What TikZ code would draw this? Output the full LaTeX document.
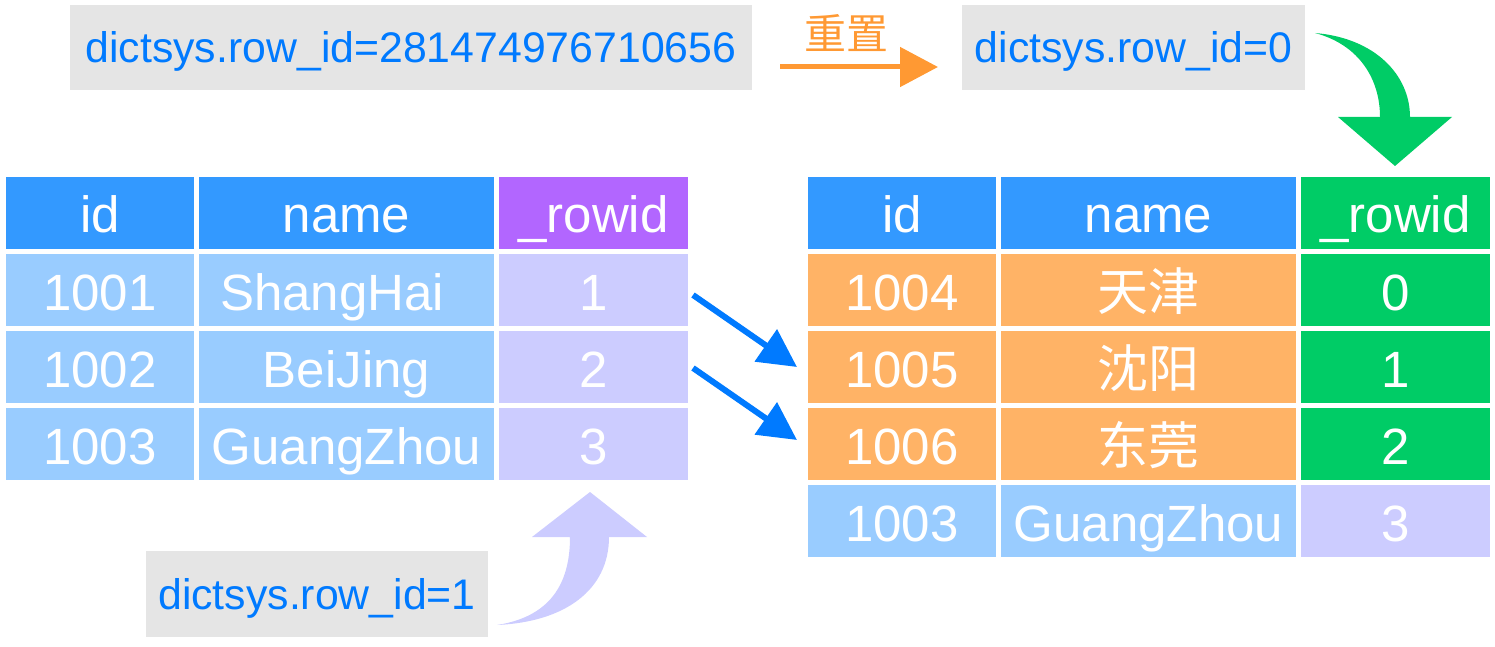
\documentclass[tikz,border=0pt]{standalone}
\usepackage{fontspec}
\setmainfont{Liberation Sans}
\newfontfamily\cjk{Noto Sans CJK SC}
\usetikzlibrary{arrows.meta}
\definecolor{hdrblue}{RGB}{51,153,255}
\definecolor{lblue}{RGB}{153,204,255}
\definecolor{hdrpurple}{RGB}{178,102,255}
\definecolor{lav}{RGB}{204,204,255}
\definecolor{orng}{RGB}{255,179,102}
\definecolor{grn}{RGB}{0,204,102}
\definecolor{lblgray}{RGB}{229,229,229}
\definecolor{txtblue}{RGB}{0,122,255}
\definecolor{arrorange}{RGB}{255,153,51}
\newcommand{\mycell}[7]{%
  \fill[#6] (#2,#3) rectangle (#4,#5);
  \node[celltxt] (#1) at ({(#2+#4)/2},{(#3+#5)/2}) {#7};}
\newcommand{\mylabel}[6]{%
  \fill[lblgray] (#2,#3) rectangle (#4,#5);
  \node[lbltxt] (#1) at ({(#2+#4)/2},{(#3+#5)/2}) {#6};}
\tikzset{
  celltxt/.style={text=white, font=\fontsize{25.5}{30}\selectfont, inner sep=0pt, text height=20pt, text depth=0pt},
  lbltxt/.style={text=txtblue, font=\fontsize{21.4}{25}\selectfont, inner sep=0pt, text height=15.3pt, text depth=0pt},
  bluearrow/.style={draw=txtblue, line width=3pt, -{Triangle[length=19pt,width=19pt]}},
  orangearrow/.style={draw=arrorange, line width=2.5pt, -{Triangle[length=19pt,width=19.5pt]}}
}
\begin{document}
\begin{tikzpicture}[x=0.5pt,y=-0.5pt]
\useasboundingbox (0,0) rectangle (1495,647);
% labels
\mylabel{lA}{70}{5}{752}{90}{dictsys.row\_id=281474976710656}
\mylabel{lB}{962}{5}{1305}{90}{dictsys.row\_id=0}
\mylabel{lC}{146}{551}{488}{637}{dictsys.row\_id=1}
% reset arrow
\coordinate (oS) at (780,67);
\coordinate (oE) at (938,67);
\draw[orangearrow] (oS) -- (oE);
\node[text=arrorange, font=\cjk\fontsize{21}{25}\selectfont, inner sep=0pt] (reset) at (846,33) {重置};
% left table
\mycell{Lh1}{6}{177}{194}{249}{hdrblue}{id}
\mycell{Lh2}{199}{177}{494}{249}{hdrblue}{name}
\mycell{Lh3}{499}{177}{688}{249}{hdrpurple}{\_rowid}
\mycell{La1}{6}{254}{194}{326}{lblue}{1001}
\fill[lblue] (199,254) rectangle (494,326);
\node[celltxt] (La2) at (332,290) {ShangHai};
\mycell{La3}{499}{254}{688}{326}{lav}{1}
\mycell{Lb1}{6}{331}{194}{403}{lblue}{1002}
\mycell{Lb2}{199}{331}{494}{403}{lblue}{BeiJing}
\mycell{Lb3}{499}{331}{688}{403}{lav}{2}
\mycell{Lc1}{6}{408}{194}{480}{lblue}{1003}
\mycell{Lc2}{199}{408}{494}{480}{lblue}{GuangZhou}
\mycell{Lc3}{499}{408}{688}{480}{lav}{3}
% right table
\mycell{Rh1}{808}{177}{996}{249}{hdrblue}{id}
\mycell{Rh2}{1001}{177}{1296}{249}{hdrblue}{name}
\mycell{Rh3}{1301}{177}{1490}{249}{grn}{\_rowid}
\mycell{Ra1}{808}{254}{996}{326}{orng}{1004}
\mycell{Ra2}{1001}{254}{1296}{326}{orng}{\cjk 天津}
\mycell{Ra3}{1301}{254}{1490}{326}{grn}{0}
\mycell{Rb1}{808}{331}{996}{403}{orng}{1005}
\mycell{Rb2}{1001}{331}{1296}{403}{orng}{\cjk 沈阳}
\mycell{Rb3}{1301}{331}{1490}{403}{grn}{1}
\mycell{Rc1}{808}{408}{996}{480}{orng}{1006}
\mycell{Rc2}{1001}{408}{1296}{480}{orng}{\cjk 东莞}
\mycell{Rc3}{1301}{408}{1490}{480}{grn}{2}
\mycell{Rd1}{808}{485}{996}{557}{lblue}{1003}
\mycell{Rd2}{1001}{485}{1296}{557}{lblue}{GuangZhou}
\mycell{Rd3}{1301}{485}{1490}{557}{lav}{3}
% blue arrows
\coordinate (b1S) at (693,295);
\coordinate (b1E) at (797,367);
\coordinate (b2S) at (693,368);
\coordinate (b2E) at (797,440);
\draw[bluearrow] (b1S) -- (b1E);
\draw[bluearrow] (b2S) -- (b2E);
% green curved arrow
\fill[grn] (1315,33) .. controls (1375,38) and (1410,75) .. (1410,117)
  -- (1452,117) -- (1395,166) -- (1338,117) -- (1380,117)
  .. controls (1380,80) and (1360,45) .. (1315,33) -- cycle;
% purple curved arrow
\fill[lav] (497,625) .. controls (555,616) and (570,578) .. (570,537)
  -- (532,537) -- (590,492) -- (647,537) -- (609,537)
  .. controls (609,590) and (565,622) .. (497,625) -- cycle;
\end{tikzpicture}
\end{document}
